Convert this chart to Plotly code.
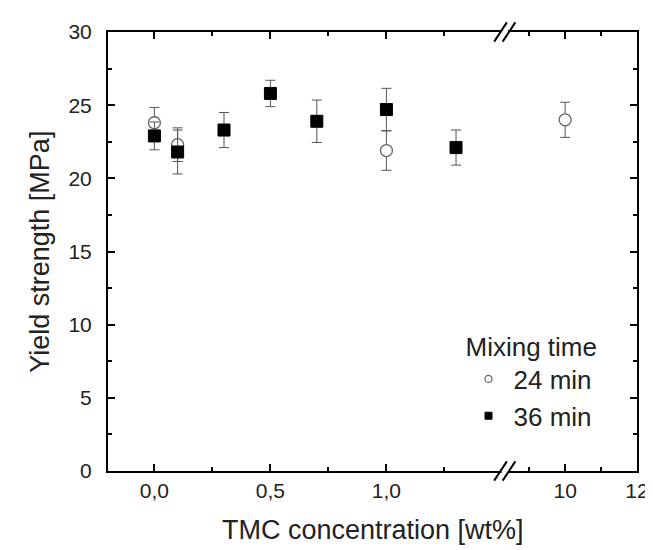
import plotly.graph_objects as go

# ---- data ----
x_24 = [0.0, 0.1, 1.0, 10]
y_24 = [23.8, 22.3, 21.9, 24.0]
err_24 = [1.05, 1.15, 1.35, 1.2]

x_36 = [0.0, 0.1, 0.3, 0.5, 0.7, 1.0, 1.3]
y_36 = [22.9, 21.8, 23.3, 25.8, 23.9, 24.7, 22.1]
err_36 = [0.95, 1.5, 1.2, 0.9, 1.45, 1.45, 1.2]

left_ticks = [0.0, 0.5, 1.0]
left_ticktext = ["0,0", "0,5", "1,0"]
left_minor = [0.25, 0.75, 1.25]
right_ticks = [10, 12]
right_ticktext = ["10", "12"]
right_minor = [9, 11]
y_ticks = [0, 5, 10, 15, 20, 25, 30]
y_minor = [2.5, 7.5, 12.5, 17.5, 22.5, 27.5]

LEFT_RANGE = [-0.2, 1.51]
RIGHT_RANGE = [8.32, 12]
BREAK = 0.75

FONT = "Liberation Sans, Arial, sans-serif"
TXT = "#222222"

def split(xs, ys, es):
    lo = [(x, y, e) for x, y, e in zip(xs, ys, es) if x <= LEFT_RANGE[1]]
    hi = [(x, y, e) for x, y, e in zip(xs, ys, es) if x >= RIGHT_RANGE[0]]
    return lo, hi

fig = go.Figure()

series = [
    ("24 min", x_24, y_24, err_24,
     dict(symbol="circle", size=12, color="white", line=dict(color="#666666", width=1.3))),
    ("36 min", x_36, y_36, err_36,
     dict(symbol="square", size=12, color="black", line=dict(color="black", width=1))),
]

for name, xs, ys, es, mk in series:
    lo, hi = split(xs, ys, es)
    for part, xa, ya in ((lo, "x", "y"), (hi, "x2", "y2")):
        if not part:
            continue
        fig.add_trace(go.Scatter(
            x=[p[0] for p in part], y=[p[1] for p in part],
            error_y=dict(type="data", array=[p[2] for p in part], visible=True,
                         color="#555555", thickness=1, width=5),
            mode="markers", marker=mk, xaxis=xa, yaxis=ya,
            showlegend=False, name=name))
    # legend entry with small marker
    lmk = dict(mk)
    lmk["size"] = 7
    fig.add_trace(go.Scatter(x=[None], y=[None], mode="markers", marker=lmk,
                             name=name, showlegend=True, xaxis="x", yaxis="y"))

axis_common = dict(showline=True, linecolor="black", linewidth=2, ticks="inside",
                   tickcolor="black", tickwidth=2, ticklen=7, showgrid=False,
                   zeroline=False, tickfont=dict(family=FONT, size=21, color=TXT))

fig.update_layout(
    width=653, height=550,
    margin=dict(l=100, r=13, t=22, b=87),
    plot_bgcolor="white", paper_bgcolor="white",
    xaxis=dict(domain=[0, BREAK], range=LEFT_RANGE, tickmode="array",
               tickvals=left_ticks, ticktext=left_ticktext, mirror="allticks",
               minor=dict(tickvals=left_minor, ticks="inside", ticklen=4,
                          tickcolor="black", tickwidth=2),
               anchor="y", ticklabelstandoff=0, **axis_common),
    xaxis2=dict(domain=[BREAK, 1], range=RIGHT_RANGE, tickmode="array",
                tickvals=right_ticks, ticktext=right_ticktext, mirror="allticks",
                minor=dict(tickvals=right_minor, ticks="inside", ticklen=4,
                           tickcolor="black", tickwidth=2),
                anchor="y2", ticklabelstandoff=0, **axis_common),
    yaxis=dict(range=[0, 30], tickmode="array", tickvals=y_ticks,
               minor=dict(tickvals=y_minor, ticks="inside", ticklen=4,
                          tickcolor="black", tickwidth=2),
               anchor="x", ticklabelstandoff=10, **axis_common),
    yaxis2=dict(range=[0, 30], tickmode="array", tickvals=y_ticks, matches="y",
                minor=dict(tickvals=y_minor, ticks="inside", ticklen=4,
                           tickcolor="black", tickwidth=2),
                anchor="x2", side="right", showticklabels=False, **axis_common),
    legend=dict(x=0.672, y=0.34, xanchor="left", yanchor="top",
                bgcolor="rgba(0,0,0,0)", itemwidth=40, tracegroupgap=0,
                font=dict(family=FONT, size=26, color=TXT),
                title=dict(text="Mixing time", font=dict(family=FONT, size=26, color=TXT))),
    showlegend=True,
)

# axis titles
fig.add_annotation(text="TMC concentration [wt%]", xref="paper", yref="paper",
                   x=0.5, y=-0.135, xanchor="center", yanchor="middle", showarrow=False,
                   font=dict(family=FONT, size=27, color=TXT))
fig.add_annotation(text="Yield strength [MPa]", xref="paper", yref="paper",
                   x=-0.13, y=0.5, xanchor="center", yanchor="middle", textangle=-90,
                   showarrow=False, font=dict(family=FONT, size=27, color=TXT))

# axis break marks (white gap + two slashes, top and bottom)
for yb in (0, 1):
    fig.add_shape(type="rect", xref="paper", yref="paper",
                  x0=BREAK - 0.006, x1=BREAK + 0.006, y0=yb - 0.008, y1=yb + 0.008,
                  fillcolor="white", line=dict(width=0), layer="above")
    for dx in (-0.008, 0.008):
        fig.add_shape(type="line", xref="paper", yref="paper",
                      x0=BREAK + dx - 0.012, x1=BREAK + dx + 0.012,
                      y0=yb - 0.022, y1=yb + 0.022,
                      line=dict(color="black", width=2), layer="above")

fig.write_html("out.html")
